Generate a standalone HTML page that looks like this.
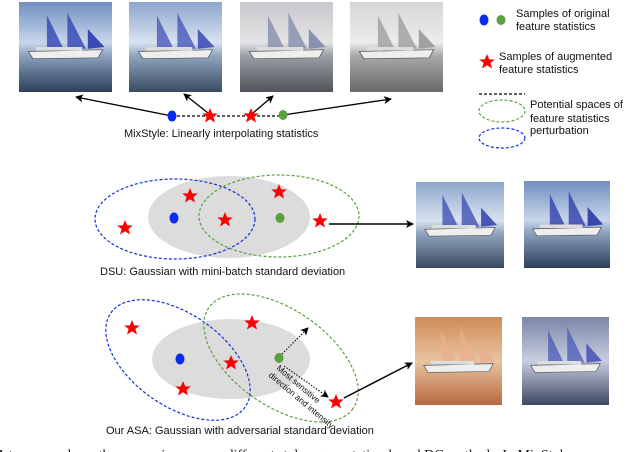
<!DOCTYPE html>
<html><head><meta charset="utf-8"><style>
html,body{margin:0;padding:0;background:#fff;width:640px;height:452px;overflow:hidden}
svg{display:block}
text{font-family:"Liberation Sans",sans-serif;font-size:11px;fill:#111}
</style></head><body>
<svg width="640" height="452" viewBox="0 0 640 452" xmlns="http://www.w3.org/2000/svg">
<defs>
<marker id="ah" markerWidth="8" markerHeight="8" refX="7" refY="4" orient="auto" markerUnits="userSpaceOnUse"><path d="M0,0 L8,4 L0,8 L2,4 z" fill="#000"/></marker>
<linearGradient id="sea1" x1="0" y1="0" x2="0" y2="1"><stop offset="0" stop-color="#6f8fbf"/><stop offset="0.45" stop-color="#c8d6ea"/><stop offset="0.6" stop-color="#8aa0bc"/><stop offset="1" stop-color="#2c3e5a"/></linearGradient>
<linearGradient id="sea2" x1="0" y1="0" x2="0" y2="1"><stop offset="0" stop-color="#8ea6cc"/><stop offset="0.45" stop-color="#d8e2f0"/><stop offset="0.6" stop-color="#90a4be"/><stop offset="1" stop-color="#3a4a62"/></linearGradient>
<linearGradient id="sea3" x1="0" y1="0" x2="0" y2="1"><stop offset="0" stop-color="#c8c8cc"/><stop offset="0.45" stop-color="#e4e4e6"/><stop offset="0.6" stop-color="#9a9ea6"/><stop offset="1" stop-color="#505458"/></linearGradient>
<linearGradient id="sea4" x1="0" y1="0" x2="0" y2="1"><stop offset="0" stop-color="#d6d6d6"/><stop offset="0.45" stop-color="#ececec"/><stop offset="0.6" stop-color="#a8a8a8"/><stop offset="1" stop-color="#6a6a6a"/></linearGradient>
<linearGradient id="sea5" x1="0" y1="0" x2="0" y2="1"><stop offset="0" stop-color="#d08a58"/><stop offset="0.5" stop-color="#e8c4a0"/><stop offset="1" stop-color="#b86a40"/></linearGradient>
<linearGradient id="sea6" x1="0" y1="0" x2="0" y2="1"><stop offset="0" stop-color="#7a86a8"/><stop offset="0.5" stop-color="#c8cee0"/><stop offset="1" stop-color="#3c4660"/></linearGradient>
<symbol id="ship" viewBox="0 0 100 100" preserveAspectRatio="none">
<path d="M30,15 L30,52 L48,52 Z" fill="currentColor" opacity="0.75"/>
<path d="M52,12 L52,52 L72,52 Z" fill="currentColor" opacity="0.75"/>
<path d="M74,30 L74,52 L92,50 Z" fill="currentColor" opacity="0.9"/>
<path d="M10,55 L90,53 L85,62 L15,63 Z" fill="#eee" stroke="#555" stroke-width="0.8"/>
<rect x="18" y="50" width="50" height="4" fill="#ddd"/>
</symbol>
<polygon id="st" points="0,-8 2.2,-2.6 7.8,-2.5 3.4,1 5,6.5 0,3.3 -5,6.5 -3.4,1 -7.8,-2.5 -2.2,-2.6" fill="#f00"/>
</defs>

<!-- top images -->
<rect x="19" y="2" width="93" height="90" fill="url(#sea1)"/><use href="#ship" x="19" y="2" width="93" height="90" color="#2a3cb0"/>
<rect x="129" y="2" width="93" height="90" fill="url(#sea2)"/><use href="#ship" x="129" y="2" width="93" height="90" color="#4050b8"/>
<rect x="240" y="2" width="93" height="90" fill="url(#sea3)"/><use href="#ship" x="240" y="2" width="93" height="90" color="#8088a8"/>
<rect x="350" y="2" width="93" height="90" fill="url(#sea4)"/><use href="#ship" x="350" y="2" width="93" height="90" color="#999"/>

<!-- mixstyle row -->
<line x1="172" y1="116" x2="283" y2="116" stroke="#000" stroke-width="1.2" stroke-dasharray="3,2"/>
<line x1="172" y1="116" x2="76" y2="97" stroke="#000" stroke-width="1.3" marker-end="url(#ah)"/>
<line x1="208" y1="113" x2="184" y2="94" stroke="#000" stroke-width="1.3" marker-end="url(#ah)"/>
<line x1="253" y1="113" x2="273" y2="96" stroke="#000" stroke-width="1.3" marker-end="url(#ah)"/>
<line x1="283" y1="115" x2="391" y2="99" stroke="#000" stroke-width="1.3" marker-end="url(#ah)"/>
<ellipse cx="172" cy="116" rx="4.5" ry="5.5" fill="#0a2cf0"/>
<ellipse cx="283" cy="115" rx="4.5" ry="5" fill="#5aa040"/>
<use href="#st" x="210" y="116"/><use href="#st" x="251" y="116"/>
<text x="124" y="137">MixStyle: Linearly interpolating statistics</text>

<!-- legend -->
<ellipse cx="484" cy="20" rx="4.5" ry="5.5" fill="#0a2cf0"/>
<ellipse cx="501" cy="20" rx="4.5" ry="5" fill="#5aa040"/>
<text x="516" y="17">Samples of original</text><text x="516" y="30">feature statistics</text>
<use href="#st" x="487" y="62"/>
<text x="499" y="60">Samples of augmented</text><text x="499" y="73">feature statistics</text>
<line x1="479" y1="94" x2="525" y2="94" stroke="#000" stroke-width="1.2" stroke-dasharray="3,2"/>
<ellipse cx="502" cy="111" rx="23" ry="11" fill="none" stroke="#5aa040" stroke-width="1.2" stroke-dasharray="3,2"/>
<ellipse cx="502" cy="138" rx="23" ry="10" fill="none" stroke="#1030e0" stroke-width="1.2" stroke-dasharray="3,2"/>
<text x="530" y="108">Potential spaces of</text><text x="530" y="122">feature statistics</text><text x="530" y="134">perturbation</text>

<!-- DSU -->
<ellipse cx="229" cy="217" rx="81" ry="41" fill="#dcdcdc"/>
<ellipse cx="175" cy="219" rx="80" ry="40" fill="none" stroke="#1030e0" stroke-width="1.2" stroke-dasharray="3,2"/>
<ellipse cx="279" cy="216" rx="80" ry="41" fill="none" stroke="#5aa040" stroke-width="1.2" stroke-dasharray="3,2"/>
<ellipse cx="174" cy="218" rx="4.5" ry="5.5" fill="#0a2cf0"/>
<ellipse cx="280" cy="218" rx="4.5" ry="5" fill="#5aa040"/>
<use href="#st" x="125" y="228"/><use href="#st" x="190" y="196"/><use href="#st" x="225" y="220"/><use href="#st" x="279" y="192"/><use href="#st" x="320" y="221"/>
<line x1="329" y1="224" x2="413" y2="224" stroke="#000" stroke-width="1.5" marker-end="url(#ah)"/>
<text x="100" y="275">DSU: Gaussian with mini-batch standard deviation</text>
<rect x="416" y="182" width="88" height="86" fill="url(#sea2)"/><use href="#ship" x="416" y="182" width="88" height="86" color="#3848b0"/>
<rect x="524" y="181" width="86" height="87" fill="url(#sea1)"/><use href="#ship" x="524" y="181" width="86" height="87" color="#2838a8"/>

<!-- ASA -->
<ellipse cx="231" cy="359" rx="79" ry="40" fill="#dcdcdc"/>
<ellipse cx="178" cy="360" rx="82" ry="46" transform="rotate(35 178 360)" fill="none" stroke="#1030e0" stroke-width="1.2" stroke-dasharray="3,2"/>
<ellipse cx="281" cy="358" rx="88" ry="48" transform="rotate(35 281 358)" fill="none" stroke="#5aa040" stroke-width="1.2" stroke-dasharray="3,2"/>
<ellipse cx="180" cy="359" rx="4.5" ry="5.5" fill="#0a2cf0"/>
<ellipse cx="279" cy="358" rx="4.5" ry="5" fill="#5aa040"/>
<line x1="282" y1="354" x2="308" y2="328" stroke="#000" stroke-width="1" stroke-dasharray="1.5,1.5" marker-end="url(#ah)"/>
<line x1="284" y1="366" x2="328" y2="397" stroke="#000" stroke-width="1" stroke-dasharray="1.5,1.5" marker-end="url(#ah)"/>
<use href="#st" x="132" y="328"/><use href="#st" x="252" y="323"/><use href="#st" x="231" y="363"/><use href="#st" x="183" y="389"/><use href="#st" x="336" y="402"/>
<text transform="translate(276,369) rotate(40)" style="font-size:8.5px">Most sensitive</text>
<text transform="translate(268,376) rotate(40)" style="font-size:8.5px">direction and intensity</text>
<line x1="344" y1="398" x2="412" y2="363" stroke="#000" stroke-width="1.5" marker-end="url(#ah)"/>
<text x="106" y="434">Our ASA: Gaussian with adversarial standard deviation</text>
<rect x="415" y="317" width="87" height="88" fill="url(#sea5)"/><use href="#ship" x="415" y="317" width="87" height="88" color="#e8b090"/>
<rect x="522" y="317" width="87" height="88" fill="url(#sea6)"/><use href="#ship" x="522" y="317" width="87" height="88" color="#4a58b8"/>

<text x="-4" y="459" style="font-family:'Liberation Serif',serif;font-size:14px">A toy example on the comparison across different style augmentation-based DG methods. In MixStyle,</text>
</svg>
</body></html>
